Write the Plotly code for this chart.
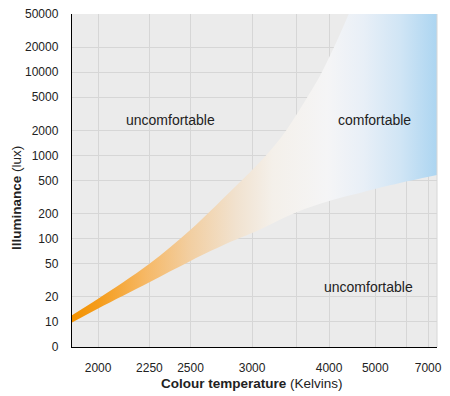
import math
import plotly.graph_objects as go

# ---- data ----
temp_ticks = [2000, 2250, 2500, 3000, 3500, 4000, 5000, 6000, 7000]
temp_tick_labels = ["2000", "2250", "2500", "3000", "", "4000", "5000", "", "7000"]
lux_ticks = [5, 10, 20, 50, 100, 200, 500, 1000, 2000, 5000, 10000, 20000, 50000]
lux_tick_labels = ["0", "10", "20", "50", "100", "200", "500", "1000", "2000",
                   "5000", "10000", "20000", "50000"]

# lower boundary of the comfortable zone
lower_T = [1890, 2000, 2250, 2500, 2800, 3000, 3500, 4000, 4700, 5100, 6150, 7510]
lower_lux = [9.7, 14.5, 30, 54, 91, 117, 207, 284, 364, 406, 495, 582]

# upper boundary of the comfortable zone
upper_T = [1890, 2000, 2250, 2500, 2800, 3000, 3300, 3620, 3880, 4360, 4740, 7510]
upper_lux = [11.9, 19, 50, 128, 367, 667, 1590, 4490, 10050, 48200, 164000, 500000]

T_MIN, T_MAX = 1893, 7508


def mired_axis(ts):
    # reciprocal colour temperature scale (negated so it increases to the right)
    return [-1e6 / t for t in ts]


grid = "#D6D6D6"
font_family = "Liberation Sans, Arial, Helvetica, sans-serif"

fig = go.Figure()
fig.add_trace(go.Scatter(
    x=mired_axis(lower_T), y=lower_lux, mode="lines",
    line=dict(width=0, shape="spline", color="rgba(0,0,0,0)"),
    hoverinfo="skip", showlegend=False,
))
fig.add_trace(go.Scatter(
    x=mired_axis(upper_T), y=upper_lux, mode="lines",
    line=dict(width=0, shape="spline", color="rgba(0,0,0,0)"),
    fill="tonexty",
    fillgradient=dict(
        type="horizontal",
        start=-1e6 / T_MIN, stop=-1e6 / T_MAX,
        colorscale=[
            [0.00, "#F39200"],
            [0.08, "#F59E1F"],
            [0.20, "#F6B865"],
            [0.32, "#F2CEA0"],
            [0.45, "#F1E2CF"],
            [0.55, "#F4F0EA"],
            [0.70, "#F5F5F6"],
            [0.80, "#E8EFF7"],
            [0.90, "#D0E5F5"],
            [1.00, "#ACD5F1"],
        ],
    ),
    hoverinfo="skip", showlegend=False,
))

fig.update_xaxes(
    type="linear", automargin=False,
    range=[-1e6 / T_MIN, -1e6 / T_MAX],
    tickvals=mired_axis(temp_ticks), ticktext=temp_tick_labels,
    showgrid=True, gridcolor=grid, gridwidth=1,
    showline=True, linecolor="black", linewidth=1.2,
    zeroline=False, ticks="", ticklabelstandoff=9,
    tickfont=dict(size=12, color="#222", family=font_family),
)
fig.update_yaxes(
    type="log", automargin=False,
    range=[math.log10(5), math.log10(50000)],
    tickvals=lux_ticks, ticktext=lux_tick_labels,
    showgrid=True, gridcolor=grid, gridwidth=1,
    showline=True, linecolor="black", linewidth=1.2,
    zeroline=False, ticks="", ticklabelstandoff=10,
    tickfont=dict(size=12, color="#222", family=font_family),
)

W, H = 450, 396
L, R, T, B = 72, 13, 14, 49
pw, ph = W - L - R, H - T - B


def px(x):
    return (x - L) / pw


def py(y):
    return (H - B - y) / ph


def ann(text, x, y, size=14, angle=0):
    fig.add_annotation(text=text, x=x, y=y, xref="paper", yref="paper",
                       showarrow=False, textangle=angle,
                       xanchor="center", yanchor="middle",
                       font=dict(size=size, color="#222", family=font_family))


ann("uncomfortable", px(170), py(120))
ann("comfortable", px(374), py(120))
ann("uncomfortable", px(368), py(287))
ann("<b>Colour temperature</b> (Kelvins)", px(252), py(383), size=13.5)
ann("<b>Illuminance</b> (lux)", px(16), py(198), size=13.5, angle=-90)

fig.add_shape(type="line", xref="paper", yref="paper", x0=1, x1=1, y0=0, y1=1,
              line=dict(color=grid, width=1), layer="above")

fig.update_layout(
    width=W, height=H,
    margin=dict(l=L, r=R, t=T, b=B, pad=0, autoexpand=False),
    paper_bgcolor="white", plot_bgcolor="#EBEBEB",
    font=dict(family=font_family, color="#222"),
    showlegend=False,
    hovermode=False,
)

fig.write_html(
    "out.html",
    config={"displayModeBar": False, "staticPlot": True},
    post_script="document.body.style.margin='0';document.body.style.overflow='hidden';",
)
